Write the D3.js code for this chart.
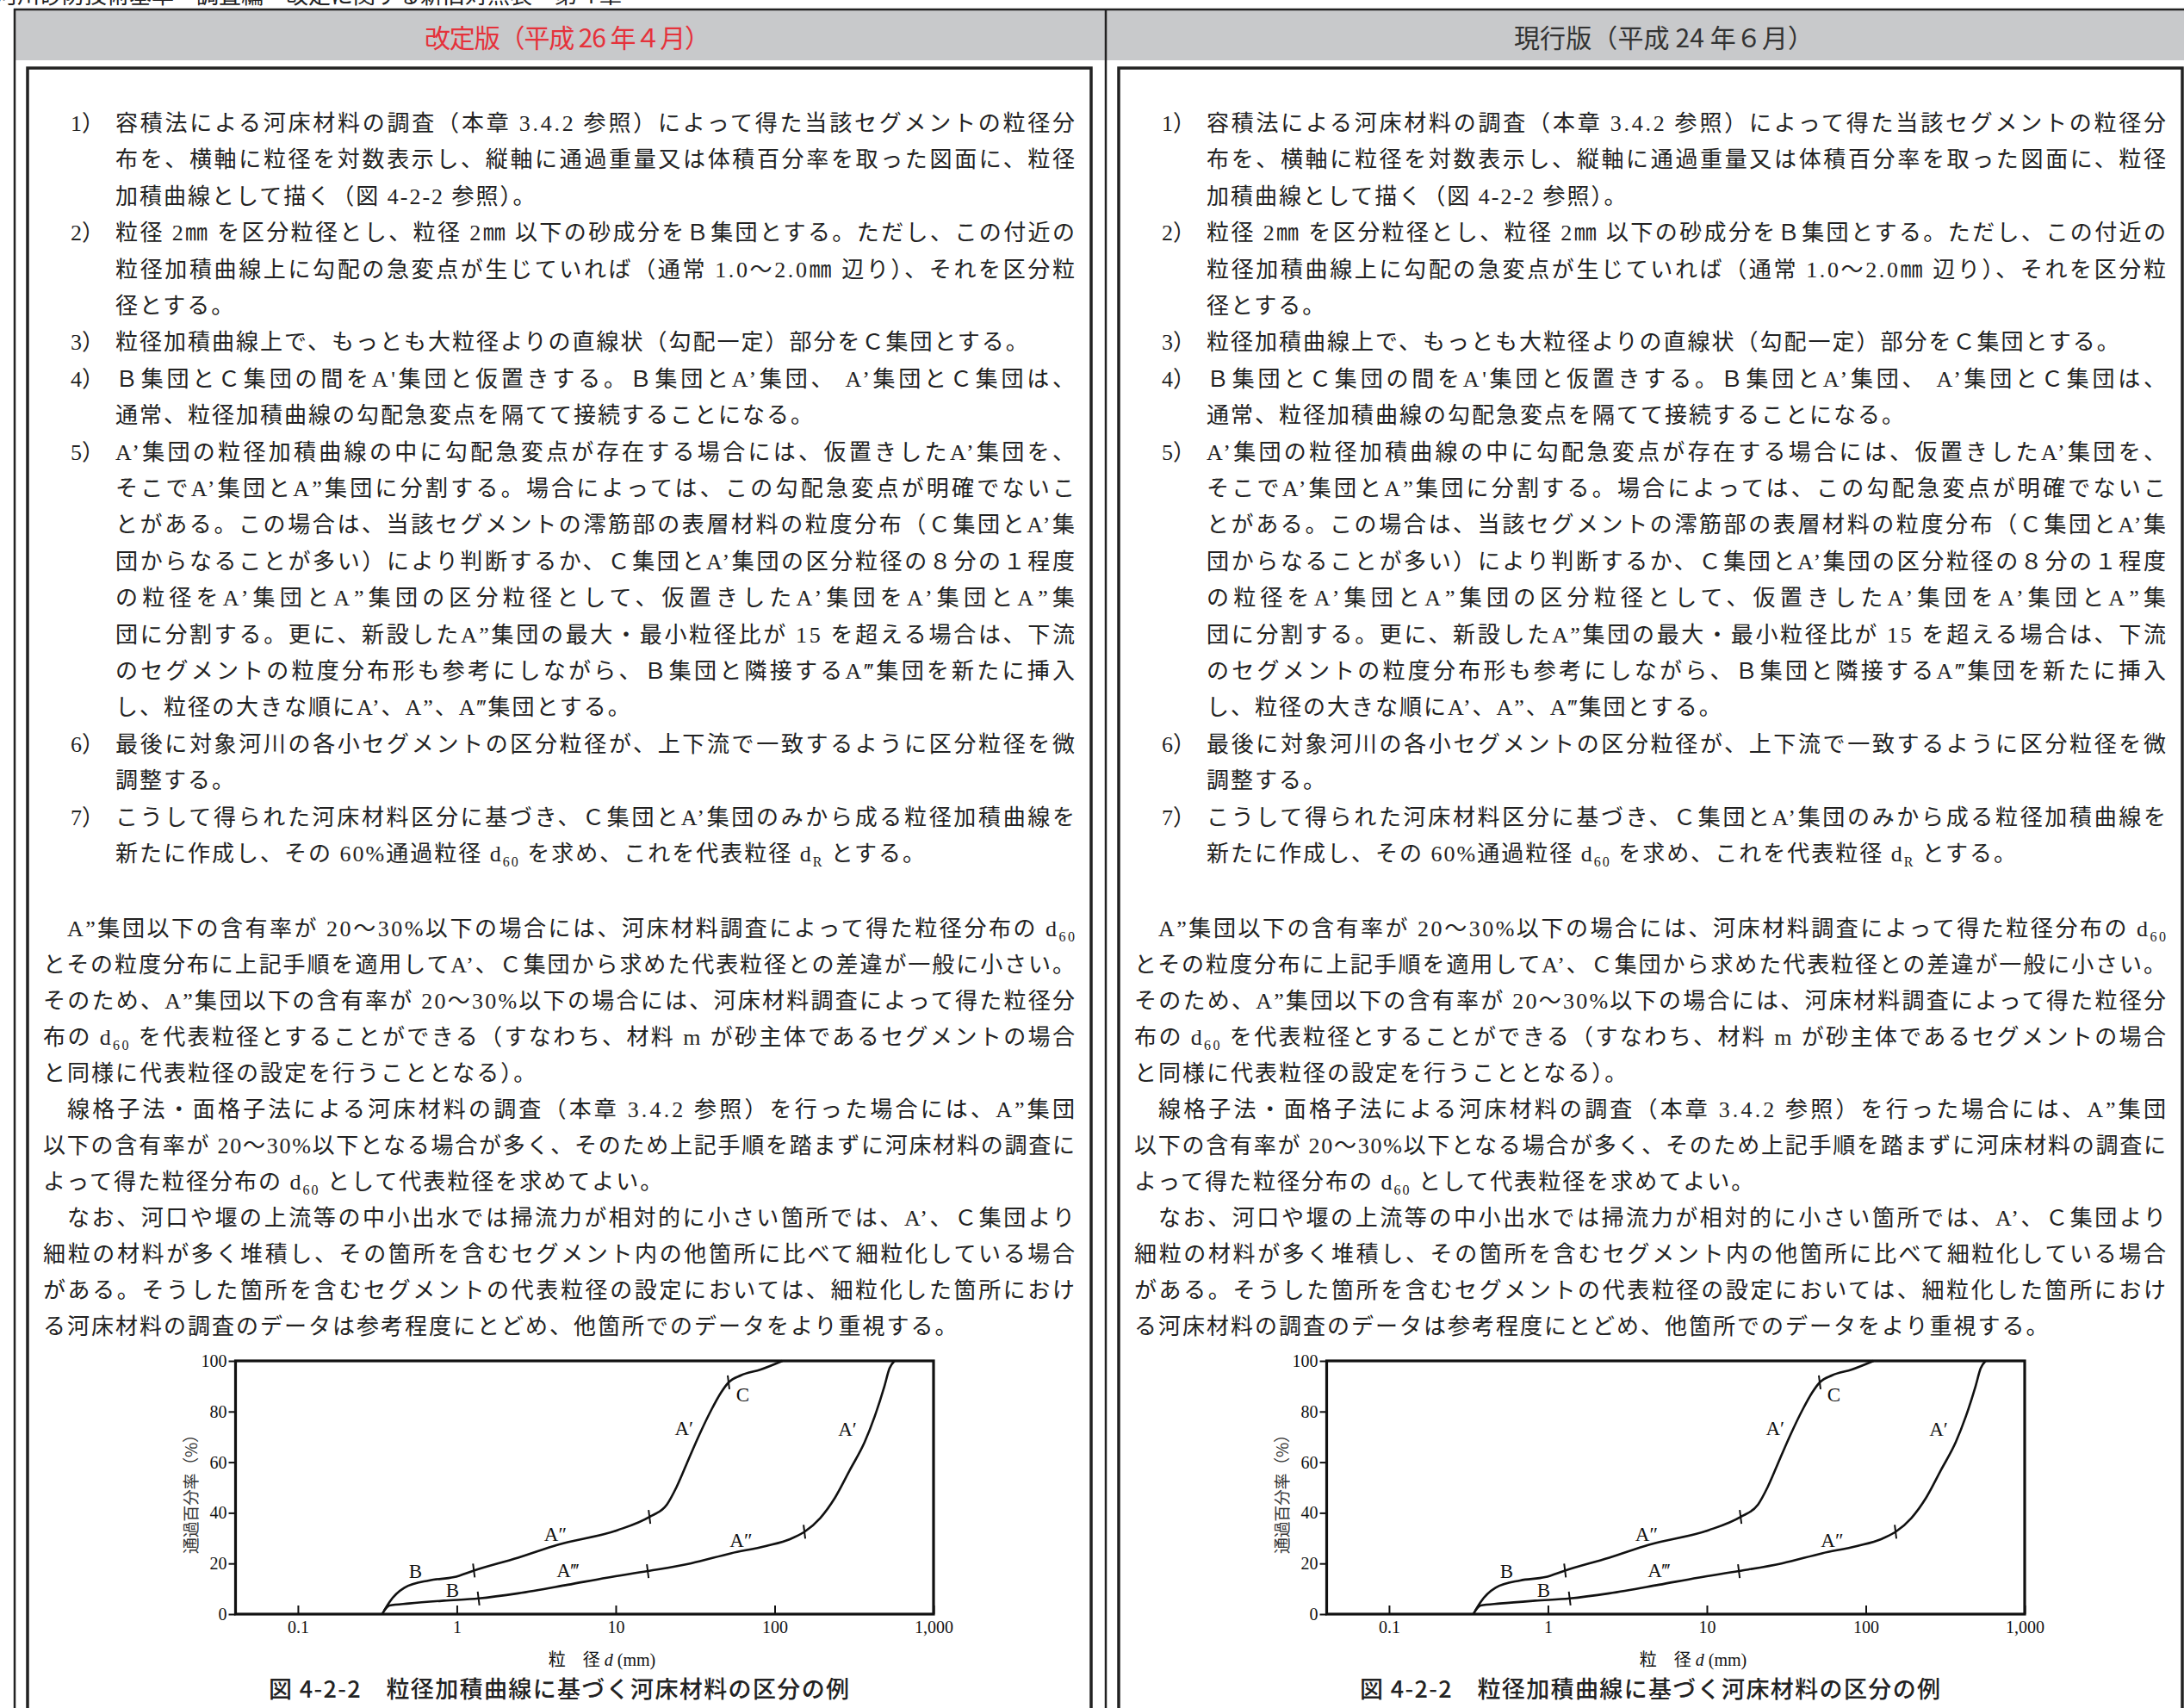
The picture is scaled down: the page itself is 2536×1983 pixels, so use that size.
<!DOCTYPE html>
<html>
<head>
<meta charset="utf-8">
<script src="https://cdn.jsdelivr.net/npm/d3@7"></script>
<style>
  body { margin: 0; background: #fff; }
  svg { display: block; }
</style>
</head>
<body>
<div id="page"></div>
<script>
// grain size distribution curves (size in mm, percent passing)
var upperCurve = [
  [0.339, 0], [0.377, 4.8], [0.468, 10.4], [0.668, 13.3], [0.96, 14.6],
  [1.28, 17.2], [2.43, 22.3], [4.32, 27.4], [10.2, 33.1], [16.3, 38.4],
  [21, 43.3], [24.1, 50.1], [28.9, 61.5], [33.4, 70.5], [40, 80.7],
  [46, 87.5], [51.3, 91.5], [61.4, 94.3], [81.8, 96.6], [112, 100]
];
var lowerCurve = [
  [0.35, 1.5], [0.377, 3.4], [0.5, 4.2], [0.83, 5.3], [1.37, 6.2],
  [2.43, 8.2], [5, 11.6], [8.8, 14.4], [15.9, 17], [29.9, 20.1],
  [53, 24], [88, 26.9], [126, 29.7], [154, 32.5], [194, 38],
  [240, 46], [298, 57], [369, 68], [426, 78], [491, 90],
  [528, 97], [568, 100]
];
// break points between groups
var breakSize = [1.28, 16.3, 51.3, 1.37, 15.9, 154];
var breakPct = [17.2, 38.4, 91.5, 6.2, 17, 32.5];
// group labels on the curves
var curveLabels = ["B", "B", "A″", "A‴", "A′", "C", "A″", "A′"];
var labelSize = [0.55, 0.94, 4.17, 4.99, 26.9, 63, 61.4, 287];
var labelPct = [16.7, 9.3, 31.4, 17.2, 73.4, 86.4, 29.1, 72.8];

var xTicks = [0.1, 1, 10, 100, 1000];
var xTickLabels = ["0.1", "1", "10", "100", "1,000"];
var yTicks = [0, 20, 40, 60, 80, 100];

var headers = ["改定版（平成 26 年４月）", "現行版（平成 24 年６月）"];
var headerColors = ["#e5323b", "#333"];

// body text: kind (i = item, f = first line of paragraph, p = paragraph), number, text, justified
var bodyLines1 = [
  ["i", "1）", "容積法による河床材料の調査（本章 3.4.2 参照）によって得た当該セグメントの粒径分", 1],
  ["i", "", "布を、横軸に粒径を対数表示し、縦軸に通過重量又は体積百分率を取った図面に、粒径", 1],
  ["i", "", "加積曲線として描く（図 4-2-2 参照）。", 0],
  ["i", "2）", "粒径 2㎜ を区分粒径とし、粒径 2㎜ 以下の砂成分をＢ集団とする。ただし、この付近の", 1],
  ["i", "", "粒径加積曲線上に勾配の急変点が生じていれば（通常 1.0～2.0㎜ 辺り）、それを区分粒", 1],
  ["i", "", "径とする。", 0],
  ["i", "3）", "粒径加積曲線上で、もっとも大粒径よりの直線状（勾配一定）部分をＣ集団とする。", 0],
  ["i", "4）", "Ｂ集団とＣ集団の間をA'集団と仮置きする。Ｂ集団とA’集団、 A’集団とＣ集団は、", 1],
  ["i", "", "通常、粒径加積曲線の勾配急変点を隔てて接続することになる。", 0],
  ["i", "5）", "A’集団の粒径加積曲線の中に勾配急変点が存在する場合には、仮置きしたA’集団を、", 1],
  ["i", "", "そこでA’集団とA”集団に分割する。場合によっては、この勾配急変点が明確でないこ", 1],
  ["i", "", "とがある。この場合は、当該セグメントの澪筋部の表層材料の粒度分布（Ｃ集団とA’集", 1],
  ["i", "", "団からなることが多い）により判断するか、Ｃ集団とA’集団の区分粒径の８分の１程度", 1],
  ["i", "", "の粒径をA’集団とA”集団の区分粒径として、仮置きしたA’集団をA’集団とA”集", 1],
  ["i", "", "団に分割する。更に、新設したA”集団の最大・最小粒径比が 15 を超える場合は、下流", 1],
  ["i", "", "のセグメントの粒度分布形も参考にしながら、Ｂ集団と隣接するA‴集団を新たに挿入", 1],
  ["i", "", "し、粒径の大きな順にA’、A”、A‴集団とする。", 0],
  ["i", "6）", "最後に対象河川の各小セグメントの区分粒径が、上下流で一致するように区分粒径を微", 1],
  ["i", "", "調整する。", 0],
  ["i", "7）", "こうして得られた河床材料区分に基づき、Ｃ集団とA’集団のみから成る粒径加積曲線を", 1],
  ["i", "", "新たに作成し、その 60%通過粒径 d_{60} を求め、これを代表粒径 d_{R} とする。", 0]
];
var bodyLines2 = [
  ["f", "", "A”集団以下の含有率が 20～30%以下の場合には、河床材料調査によって得た粒径分布の d_{60}", 1],
  ["p", "", "とその粒度分布に上記手順を適用してA’、Ｃ集団から求めた代表粒径との差違が一般に小さい。", 1],
  ["p", "", "そのため、A”集団以下の含有率が 20～30%以下の場合には、河床材料調査によって得た粒径分", 1],
  ["p", "", "布の d_{60} を代表粒径とすることができる（すなわち、材料 m が砂主体であるセグメントの場合", 1],
  ["p", "", "と同様に代表粒径の設定を行うこととなる）。", 0],
  ["f", "", "線格子法・面格子法による河床材料の調査（本章 3.4.2 参照）を行った場合には、A”集団", 1],
  ["p", "", "以下の含有率が 20～30%以下となる場合が多く、そのため上記手順を踏まずに河床材料の調査に", 1],
  ["p", "", "よって得た粒径分布の d_{60} として代表粒径を求めてよい。", 0],
  ["f", "", "なお、河口や堰の上流等の中小出水では掃流力が相対的に小さい箇所では、A’、Ｃ集団より", 1],
  ["p", "", "細粒の材料が多く堆積し、その箇所を含むセグメント内の他箇所に比べて細粒化している場合", 1],
  ["p", "", "がある。そうした箇所を含むセグメントの代表粒径の設定においては、細粒化した箇所におけ", 1],
  ["p", "", "る河床材料の調査のデータは参考程度にとどめ、他箇所でのデータをより重視する。", 0]
];

var W = 2536, H = 1983;
var colShift = 1267;
var ink = "#222";
var bodyFont = "'Liberation Serif', 'Noto Sans CJK JP', serif";
var gothic = "'Noto Sans CJK JP', sans-serif";

var svg = d3.select("#page").append("svg").attr("width", W).attr("height", H);

// page title, mostly cut off at the top
svg.append("text")
  .attr("x", -6).attr("y", 4)
  .style("font-family", gothic).style("font-size", "26px").style("fill", ink)
  .text("河川砂防技術基準　調査編　改定に関する新旧対照表　第４章");

// header band
svg.append("rect").attr("x", 17).attr("y", 12).attr("width", W - 17).attr("height", 58).attr("fill", "#c8c9cb");
svg.append("line").attr("x1", 16).attr("x2", W).attr("y1", 11).attr("y2", 11).attr("stroke", ink).attr("stroke-width", 2.5);
[17, 1284].forEach(function (x) {
  svg.append("line").attr("x1", x).attr("x2", x).attr("y1", 10).attr("y2", H).attr("stroke", ink).attr("stroke-width", 2.5);
});
[[493, 332], [1758, 348]].forEach(function (p, i) {
  svg.append("text")
    .attr("x", p[0]).attr("y", 42)
    .attr("dominant-baseline", "central")
    .attr("textLength", p[1]).attr("lengthAdjust", "spacing")
    .style("font-family", gothic).style("font-size", "30px")
    .style("fill", headerColors[i])
    .text(headers[i]);
});

function addLine(g, x, y, str, width) {
  var t = g.append("text").attr("x", x).attr("y", y);
  var parts = str.split(/_\{([^}]*)\}/);
  var shifted = false;
  parts.forEach(function (p, i) {
    if (!p) return;
    var ts = t.append("tspan").text(p);
    if (i % 2 === 1) {
      ts.style("font-size", "16px").attr("dy", 6);
      shifted = true;
    } else if (shifted) {
      ts.attr("dy", -6);
      shifted = false;
    }
  });
  if (width) t.attr("textLength", width).attr("lengthAdjust", "spacing");
  return t;
}

function drawColumn(ox) {
  var g = svg.append("g");

  // inner frame
  g.append("rect")
    .attr("x", 32 + ox).attr("y", 79).attr("width", 1235).attr("height", H)
    .attr("fill", "none").attr("stroke", ink).attr("stroke-width", 3.5);

  var tg = g.append("g")
    .style("font-family", bodyFont).style("font-size", "26px")
    .style("letter-spacing", "2px").style("fill", ink);

  var right = 1250 + ox;
  var leftOf = { i: 134 + ox, f: 78 + ox, p: 50 + ox };

  function block(lines, y0, lh) {
    lines.forEach(function (l, k) {
      var y = y0 + k * lh + 10;
      var x = leftOf[l[0]];
      if (l[1]) tg.append("text").attr("x", 82 + ox).attr("y", y).style("letter-spacing", "0px").text(l[1]);
      addLine(tg, x, y, l[2], l[3] ? right - x : 0);
    });
  }
  block(bodyLines1, 142, 42.4);
  block(bodyLines2, 1077, 42);

  drawChart(g, ox);
}

function drawChart(g, ox) {
  var x = d3.scaleLog().domain([0.0405, 1000]).range([273.5 + ox, 1084 + ox]);
  var y = d3.scaleLinear().domain([0, 100]).range([1874, 1580]);
  var cg = g.append("g");
  var x0 = x.range()[0], x1 = x.range()[1];

  // y axis
  var ya = cg.append("g")
    .attr("transform", "translate(" + x0 + ",0)")
    .call(d3.axisLeft(y).tickValues(yTicks).tickSize(8).tickPadding(2));
  // x axis with inward ticks
  var xa = cg.append("g")
    .attr("transform", "translate(0," + y(0) + ")")
    .call(d3.axisBottom(x).tickValues(xTicks)
      .tickFormat(function (d, i) { return xTickLabels[i]; })
      .tickSize(-10).tickPadding(8));
  [ya, xa].forEach(function (a) {
    a.select(".domain").remove();
    a.selectAll("line").attr("stroke", "#111").attr("stroke-width", 2);
    a.selectAll("text")
      .style("font-family", "'Liberation Serif', serif")
      .style("font-size", "20px").style("fill", "#111");
  });

  // frame
  cg.append("rect")
    .attr("x", x0).attr("y", y(100)).attr("width", x1 - x0).attr("height", y(0) - y(100))
    .attr("fill", "none").attr("stroke", "#111").attr("stroke-width", 3.2);

  var line = d3.line()
    .x(function (d) { return x(d[0]); })
    .y(function (d) { return y(d[1]); })
    .curve(d3.curveMonotoneX);

  cg.selectAll("path.curve")
    .data([upperCurve, lowerCurve])
    .enter().append("path")
    .attr("class", "curve")
    .attr("d", line)
    .attr("fill", "none").attr("stroke", "#111").attr("stroke-width", 2.6);

  cg.selectAll("line.brk")
    .data(breakSize)
    .enter().append("line")
    .attr("class", "brk")
    .attr("x1", function (d) { return x(d) - 1; })
    .attr("x2", function (d) { return x(d) + 1; })
    .attr("y1", function (d, i) { return y(breakPct[i]) - 8; })
    .attr("y2", function (d, i) { return y(breakPct[i]) + 8; })
    .attr("stroke", "#111").attr("stroke-width", 2);

  cg.selectAll("text.lab")
    .data(curveLabels)
    .enter().append("text")
    .attr("class", "lab")
    .attr("x", function (d, i) { return x(labelSize[i]); })
    .attr("y", function (d, i) { return y(labelPct[i]); })
    .attr("text-anchor", "middle").attr("dominant-baseline", "central")
    .style("font-family", "'Liberation Serif', serif")
    .style("font-size", "23px").style("fill", "#111")
    .text(function (d) { return d; });

  // axis titles
  cg.append("text")
    .attr("transform", "translate(" + (220 + ox) + "," + 1730 + ") rotate(-90)")
    .attr("text-anchor", "middle").attr("dominant-baseline", "central")
    .attr("textLength", 148).attr("lengthAdjust", "spacing")
    .style("font-family", gothic).style("font-size", "19px").style("fill", "#333")
    .text("通過百分率（%）");

  var xt = cg.append("text")
    .attr("x", 699 + ox).attr("y", 1934)
    .attr("text-anchor", "middle")
    .style("font-family", bodyFont).style("font-size", "20px").style("fill", "#111");
  xt.append("tspan").text("粒　径 ");
  xt.append("tspan").style("font-style", "italic").text("d");
  xt.append("tspan").text(" (mm)");

  cg.append("text")
    .attr("x", 312 + ox).attr("y", 1971)
    .attr("textLength", 674).attr("lengthAdjust", "spacing")
    .style("font-family", gothic).style("font-size", "27px").style("font-weight", 500)
    .style("fill", ink)
    .text("図 4-2-2　粒径加積曲線に基づく河床材料の区分の例");
}

drawColumn(0);
drawColumn(colShift);
</script>
</body>
</html>
